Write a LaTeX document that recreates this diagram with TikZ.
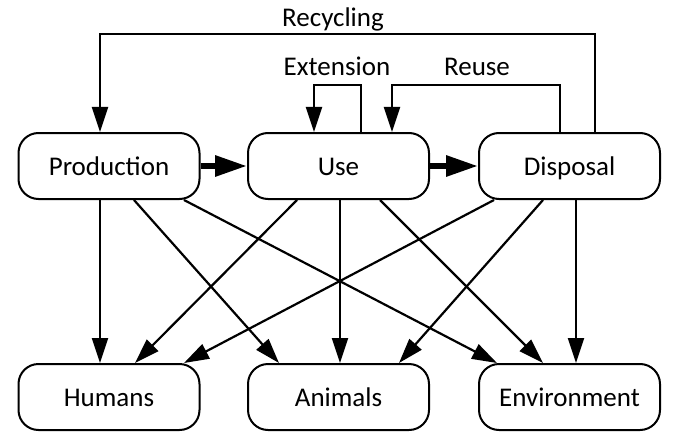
\documentclass[tikz,border=0pt]{standalone}
\usepackage{fontspec}
\setmainfont{Carlito}
\usetikzlibrary{arrows.meta}
\tikzstyle{stage}=[draw,line width=2pt,rounded corners=20pt,minimum width=181pt,minimum height=66pt,
                   text height=18pt,text depth=0pt,inner sep=0pt]
\tikzstyle{flow}=[-{Triangle[length=25pt,width=16pt]},line width=2.2pt]
\tikzstyle{mainflow}=[-{Triangle[length=32pt,width=20pt]},line width=6pt]
\tikzstyle{lbl}=[anchor=base,inner sep=0pt]

\begin{document}
\begin{tikzpicture}[x=1pt,y=-1pt,font=\fontsize{27}{32}\selectfont]
  \useasboundingbox (0,0) rectangle (674,441);
  \def\up{98}   % recycling loop height
  \def\lp{47}   % extension/reuse loop height

  % STAGES
  \node[stage] (prod) at (109,166)   {Production};
  \node[stage] (use)  at (338.5,166) {Use};
  \node[stage] (disp) at (569.5,166) {Disposal};

  % RECEPTORS
  \node[stage] (hum) at (109,397)   {Humans};
  \node[stage] (ani) at (338.5,397) {Animals};
  \node[stage] (env) at (569.5,397) {Environment};

  % MAIN FLOW
  \draw[mainflow] (prod) -- (use);
  \draw[mainflow] (use) -- (disp);

  % LOOPS
  \draw[flow] ([xshift=25.5pt]disp.north) -- ++(0,-\up) -| ([xshift=-9pt]prod.north);
  \draw[flow] ([xshift=22.5pt]use.north) -- ++(0,-\lp) -| ([xshift=-24.5pt]use.north);
  \draw[flow] ([xshift=-9.5pt]disp.north) -- ++(0,-\lp) -| ([xshift=53.5pt]use.north);
  \node[lbl] (reclbl) at (333,27) {Recycling};
  \node[lbl] (extlbl) at (337,76) {Extension};
  \node[lbl] (reulbl) at (477,76) {Reuse};

  % RELEASES
  \draw[flow] ([xshift=-9pt]prod.south) -- ([xshift=-9pt]hum.north);
  \draw[flow] ([xshift=25pt]prod.south) -- ([xshift=-59.5pt]ani.north);
  \draw[flow] ([xshift=75pt]prod.south) -- ([xshift=-72.5pt]env.north);
  \draw[flow] ([xshift=-41.5pt]use.south) -- ([xshift=26pt]hum.north);
  \draw[flow] ([xshift=1.5pt]use.south) -- ([xshift=1.5pt]ani.north);
  \draw[flow] ([xshift=41.5pt]use.south) -- ([xshift=-26.5pt]env.north);
  \draw[flow] ([xshift=-75.5pt]disp.south) -- ([xshift=75pt]hum.north);
  \draw[flow] ([xshift=-26.5pt]disp.south) -- ([xshift=60.5pt]ani.north);
  \draw[flow] ([xshift=6.5pt]disp.south) -- ([xshift=6.5pt]env.north);

\end{tikzpicture}
\end{document}
